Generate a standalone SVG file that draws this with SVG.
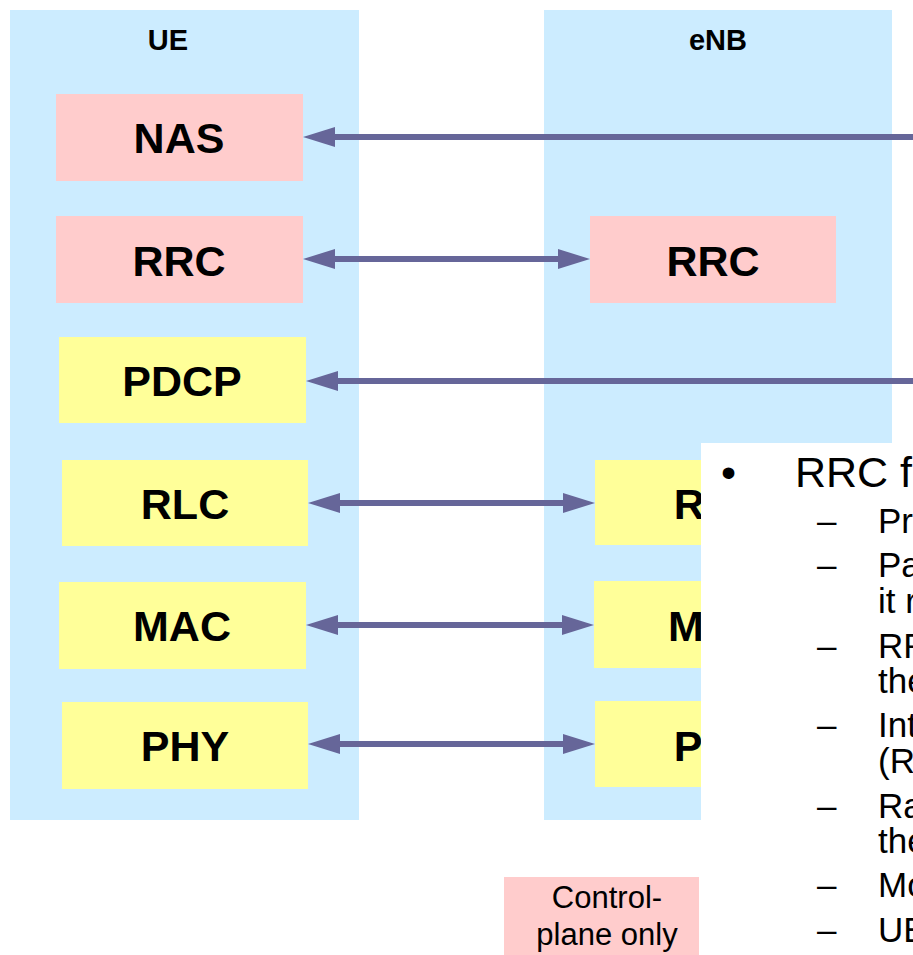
<svg xmlns="http://www.w3.org/2000/svg" width="913" height="955" viewBox="0 0 913 955">
<style>
.panel{fill:#CCECFF}
.cp{fill:#FFCCCC}
.up{fill:#FFFF99}
.hdr{font-family:"Liberation Sans",Arial,sans-serif;font-weight:bold;font-size:29px;text-anchor:middle;fill:#000}
.lbl{font-family:"Liberation Sans",Arial,sans-serif;font-weight:bold;font-size:43px;text-anchor:middle;fill:#000}
.conn{stroke:#666699;stroke-width:6;fill:none}
.txt{font-family:"Liberation Sans",Arial,sans-serif;fill:#000}
.main{font-size:43px}
.sub{font-size:35px}
.leg{font-family:"Liberation Sans",Arial,sans-serif;font-size:31px;text-anchor:middle;fill:#000}
</style>
<defs>
<marker id="ah" markerUnits="userSpaceOnUse" markerWidth="32" markerHeight="20" viewBox="0 -10 32 20" refX="0" refY="0" orient="auto-start-reverse" overflow="visible">
<path d="M0,-10 L32,0 L0,10 z" fill="#666699"/>
</marker>
</defs>
<rect width="913" height="955" fill="#fff"/>
<g id="ue">
<rect class="panel" x="10" y="10" width="349" height="810"/>
<text class="hdr" x="168" y="50">UE</text>
</g>
<g id="enb">
<rect class="panel" x="544" y="10" width="348" height="810"/>
<text class="hdr" x="718" y="50">eNB</text>
</g>
<g id="ue-nas"><rect class="cp" x="56" y="94" width="247" height="87"/><text class="lbl" x="179" y="153">NAS</text></g>
<g id="ue-rrc"><rect class="cp" x="56" y="216" width="247" height="87"/><text class="lbl" x="179" y="276">RRC</text></g>
<g id="ue-pdcp"><rect class="up" x="59" y="337" width="247" height="86"/><text class="lbl" x="182" y="396">PDCP</text></g>
<g id="ue-rlc"><rect class="up" x="62" y="460" width="246" height="86"/><text class="lbl" x="185" y="519">RLC</text></g>
<g id="ue-mac"><rect class="up" x="59" y="582" width="247" height="87"/><text class="lbl" x="182" y="641">MAC</text></g>
<g id="ue-phy"><rect class="up" x="62" y="702" width="246" height="87"/><text class="lbl" x="185" y="761">PHY</text></g>
<g id="enb-rrc"><rect class="cp" x="590" y="216" width="246" height="87"/><text class="lbl" x="713" y="276">RRC</text></g>
<g id="enb-rlc"><rect class="up" x="595" y="460" width="246" height="85"/><text class="lbl" x="718" y="519">RLC</text></g>
<g id="enb-mac"><rect class="up" x="594" y="581" width="246" height="87"/><text class="lbl" x="717" y="641">MAC</text></g>
<g id="enb-phy"><rect class="up" x="595" y="701" width="246" height="86"/><text class="lbl" x="718" y="761">PHY</text></g>
<g id="connectors">
<line class="conn" x1="920" y1="137" x2="335" y2="137" marker-end="url(#ah)"/>
<line class="conn" x1="335" y1="259" x2="558" y2="259" marker-start="url(#ah)" marker-end="url(#ah)"/>
<line class="conn" x1="920" y1="381" x2="338" y2="381" marker-end="url(#ah)"/>
<line class="conn" x1="340" y1="503" x2="563" y2="503" marker-start="url(#ah)" marker-end="url(#ah)"/>
<line class="conn" x1="338" y1="625" x2="562" y2="625" marker-start="url(#ah)" marker-end="url(#ah)"/>
<line class="conn" x1="340" y1="744" x2="563" y2="744" marker-start="url(#ah)" marker-end="url(#ah)"/>
</g>
<g id="legend">
<rect class="cp" x="504" y="877" width="195" height="78"/>
<text class="leg" x="607" y="908">Control-</text>
<text class="leg" x="607" y="945">plane only</text>
</g>
<g id="textbox">
<rect x="701" y="443" width="212" height="512" fill="#fff"/>
<g class="txt">
<text class="main" x="721" y="487">•</text>
<text class="main" x="795" y="487">RRC f</text>
<g class="sub">
<text x="817" y="533">–</text><text x="878" y="533">Pr</text>
<text x="817" y="577">–</text><text x="878" y="577">Pa</text>
<text x="878" y="613">it r</text>
<text x="817" y="658">–</text><text x="878" y="658">RR</text>
<text x="878" y="693">the</text>
<text x="817" y="737">–</text><text x="878" y="737">Int</text>
<text x="878" y="773">(R</text>
<text x="817" y="818">–</text><text x="878" y="818">Ra</text>
<text x="878" y="853">the</text>
<text x="817" y="897">–</text><text x="878" y="897">Mo</text>
<text x="817" y="942">–</text><text x="878" y="942">UE</text>
</g>
</g>
</g>
</svg>
